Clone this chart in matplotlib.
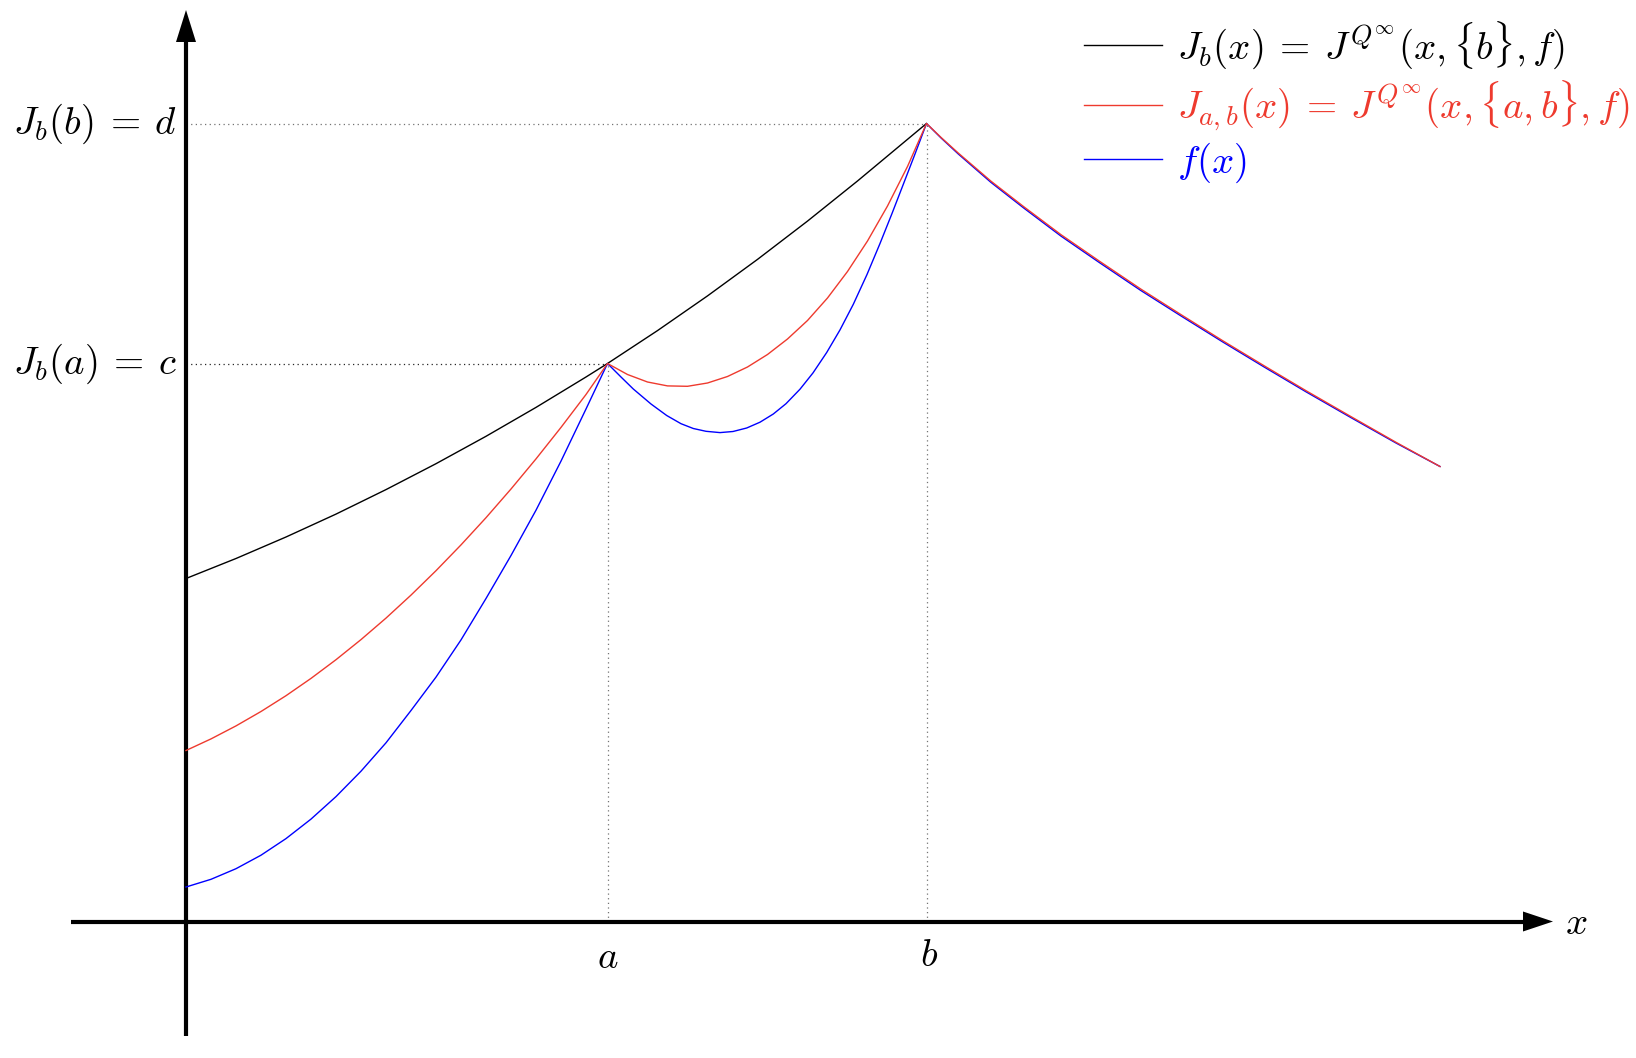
import matplotlib
matplotlib.use("Agg")
import matplotlib.pyplot as plt
from matplotlib.patches import Polygon

plt.rcParams['mathtext.fontset'] = 'cm'
plt.rcParams['font.family'] = ['DejaVu Sans']

# ---- key points (arbitrary units) ----
a_pos = 4.215
b_pos = 7.405
c_val = 5.58
d_val = 7.98

# ---- black curve J_b on [0, b] ----
black_x = [0.0, 0.5, 1.0, 1.5, 2.0, 2.5, 3.0, 3.5, 4.0, 4.215,
           4.715, 5.215, 5.715, 6.215, 6.715, 7.405]
black_y = [3.43, 3.63, 3.845, 4.074, 4.319, 4.578, 4.852, 5.141, 5.445, 5.58,
           5.909, 6.256, 6.621, 7.004, 7.405, 7.98]

# ---- red curve J_{a,b} ----
red_x = [0.0, 0.25, 0.5, 0.75, 1.0, 1.25, 1.5, 1.75, 2.0, 2.25, 2.5, 2.75,
         3.0, 3.25, 3.5, 3.75, 4.0, 4.215,
         4.415, 4.615, 4.815, 5.015, 5.215, 5.415, 5.615, 5.815, 6.015, 6.215,
         6.415, 6.615, 6.815, 7.015, 7.215, 7.405,
         7.55, 7.722, 8.05, 8.376, 8.75, 9.133, 9.55, 9.959, 10.37, 10.785,
         11.2, 11.646, 12.1, 12.54]
red_y = [1.71, 1.826, 1.956, 2.10, 2.258, 2.431, 2.618, 2.819, 3.034, 3.264, 3.508, 3.766,
         4.038, 4.325, 4.626, 4.941, 5.27, 5.58,
         5.47, 5.395, 5.356, 5.352, 5.385, 5.45, 5.545, 5.67, 5.825, 6.01,
         6.235, 6.50, 6.805, 7.155, 7.55, 7.98,
         7.841, 7.685, 7.403, 7.149, 6.868, 6.604, 6.323, 6.063, 5.806, 5.555,
         5.308, 5.051, 4.792, 4.55]

# ---- blue curve f ----
blue_x = [0.0, 0.25, 0.5, 0.75, 1.0, 1.25, 1.5, 1.75, 2.0, 2.25, 2.5, 2.75,
          3.0, 3.25, 3.5, 3.75, 4.0, 4.215,
          4.35, 4.473, 4.65, 4.807, 4.95, 5.073, 5.2, 5.34, 5.47, 5.607, 5.74,
          5.873, 6.0, 6.14, 6.27, 6.407, 6.54, 6.673, 6.81, 6.94, 7.06, 7.173,
          7.29, 7.405,
          7.55, 7.722, 8.05, 8.376, 8.75, 9.133, 9.55, 9.959, 10.37, 10.785,
          11.2, 11.646, 12.1, 12.54]
blue_y = [0.345, 0.422, 0.528, 0.663, 0.829, 1.024, 1.249, 1.503, 1.787, 2.11, 2.444, 2.816,
          3.23, 3.66, 4.113, 4.604, 5.125, 5.58,
          5.445, 5.325, 5.175, 5.06, 4.978, 4.93, 4.902, 4.889, 4.90, 4.935, 4.993,
          5.075, 5.178, 5.323, 5.486, 5.69, 5.916, 6.172, 6.47, 6.78, 7.08, 7.372,
          7.675, 7.98,
          7.836, 7.676, 7.391, 7.136, 6.854, 6.590, 6.309, 6.050, 5.794, 5.543,
          5.297, 5.041, 4.785, 4.55]

labels = [r'$J_b(x) \:=\: J^{Q^\infty}(x, \{b\}, f)$',
          r'$J_{a,b}(x) \:=\: J^{Q^\infty}(x, \{a, b\}, f)$',
          r'$f(x)$']
tick_labels_x = [r'$a$', r'$b$']
tick_labels_y = [r'$J_b(a) \:=\: c$', r'$J_b(b) \:=\: d$']

RED = '#ee3a2e'
BLUE = '#0000ff'

W, H = 1636, 1058
fig = plt.figure(figsize=(W / 100, H / 100), dpi=100)
ax = fig.add_axes([0, 0, 1, 1])
ax.set_xlim(-1.86, 14.50)
ax.set_ylim(-1.365, 9.215)
ax.axis('off')

# dotted guides
dot = (0, (1, 2.7))
ax.plot([0, b_pos], [d_val, d_val], color='0.45', lw=0.9, ls=dot)
ax.plot([0, a_pos], [c_val, c_val], color='0.15', lw=0.9, ls=dot)
ax.plot([a_pos, a_pos], [0, c_val], color='0.45', lw=0.9, ls=dot)
ax.plot([b_pos, b_pos], [0, d_val], color='0.45', lw=0.9, ls=dot)

# axes with arrows
ax.plot([-1.15, 13.40], [0, 0], color='black', lw=3.0, solid_capstyle='butt')
ax.add_patch(Polygon([[13.67, 0], [13.37, 0.10], [13.37, -0.10]], closed=True,
                     color='black', lw=0))
ax.plot([0, 0], [-1.145, 8.82], color='black', lw=3.0, solid_capstyle='butt')
ax.add_patch(Polygon([[0, 9.115], [-0.10, 8.795], [0.10, 8.795]], closed=True,
                     color='black', lw=0))

# curves
lb, = ax.plot(black_x, black_y, color='black', lw=1.0, label=labels[0],
              solid_joinstyle='round')
lbl, = ax.plot(blue_x, blue_y, color=BLUE, lw=1.0, label=labels[2],
               solid_joinstyle='round')
lr, = ax.plot(red_x, red_y, color=RED, lw=1.0, label=labels[1],
              solid_joinstyle='round')

# labels
fs = 28
ax.text(-0.09, d_val, tick_labels_y[1], fontsize=fs, ha='right', va='center')
ax.text(-0.09, c_val, tick_labels_y[0], fontsize=fs, ha='right', va='center')
ax.text(a_pos, -0.36, tick_labels_x[0], fontsize=fs, ha='center', va='center')
ax.text(b_pos + 0.03, -0.34, tick_labels_x[1], fontsize=fs, ha='center', va='center')
ax.text(13.90, -0.02, r'$x$', fontsize=fs, ha='center', va='center')

leg = ax.legend(handles=[lb, lr, lbl], loc='upper right',
                bbox_to_anchor=(1630 / W, 1 - 19 / H), bbox_transform=fig.transFigure,
                frameon=False, fontsize=fs, handlelength=2.0, handletextpad=0.4,
                labelspacing=0.2, borderpad=0, borderaxespad=0, labelcolor='linecolor')

fig.savefig('out.png', dpi=100)
